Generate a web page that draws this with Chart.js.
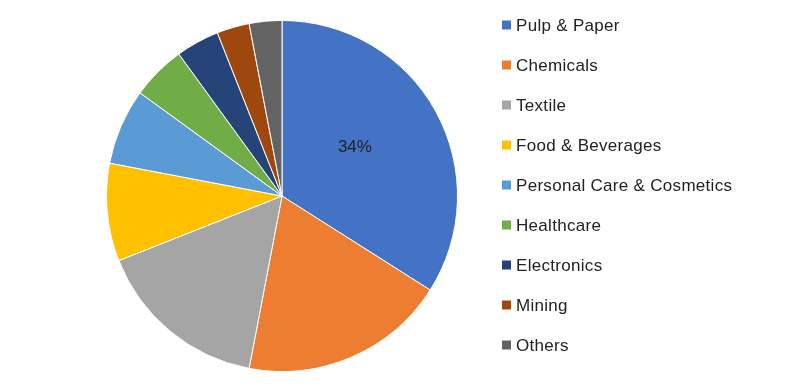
<!DOCTYPE html>
<html>
<head>
<meta charset="utf-8">
<script src="https://cdn.jsdelivr.net/npm/chart.js@4"></script>
<style>
  html, body { margin: 0; padding: 0; background: #fff; }
  #wrap { width: 800px; height: 386px; }
</style>
</head>
<body>
<div id="wrap"><canvas id="pie"></canvas></div>
<script>
const labels = ['Pulp & Paper', 'Chemicals', 'Textile', 'Food & Beverages', 'Personal Care & Cosmetics', 'Healthcare', 'Electronics', 'Mining', 'Others'];
const shares = [34, 19, 16, 9, 7, 5, 4, 3, 3];
const colors = ['#4472C4', '#ED7D31', '#A5A5A5', '#FFC000', '#5B9BD5', '#70AD47', '#264478', '#9E480E', '#636363'];
const shownLabels = [0]; // only the biggest slice has a value label

const font = '17px "Liberation Sans", Arial, sans-serif';
const textColor = '#222222';

// value label inside the slice
const sliceLabels = {
  id: 'sliceLabels',
  afterDatasetsDraw(chart) {
    const ctx = chart.ctx;
    const meta = chart.getDatasetMeta(0);
    ctx.save();
    ctx.font = font;
    ctx.fillStyle = textColor;
    ctx.textAlign = 'center';
    ctx.textBaseline = 'middle';
    shownLabels.forEach(i => {
      const p = meta.data[i].tooltipPosition();
      ctx.fillText(shares[i] + '%', p.x - 4, p.y - 6);
    });
    ctx.restore();
  }
};

// legend on the right, drawn from the chart data
const sideLegend = {
  id: 'sideLegend',
  afterDraw(chart) {
    const ctx = chart.ctx;
    const ds = chart.data.datasets[0];
    ctx.save();
    ctx.font = font;
    ctx.letterSpacing = '0.3px';
    ctx.textBaseline = 'middle';
    chart.data.labels.forEach((lab, i) => {
      const y = 25 + i * 40;
      ctx.fillStyle = ds.backgroundColor[i];
      ctx.fillRect(502, y - 4.5, 9, 9);
      ctx.fillStyle = textColor;
      ctx.fillText(lab, 516, y + 1);
    });
    ctx.restore();
  }
};

new Chart(document.getElementById('pie'), {
  type: 'pie',
  data: {
    labels,
    datasets: [{
      data: shares,
      backgroundColor: colors,
      borderColor: '#ffffff',
      borderWidth: 1
    }]
  },
  options: {
    responsive: true,
    maintainAspectRatio: false,
    animation: false,
    rotation: 0,
    layout: { padding: { left: 106, right: 342, top: 20, bottom: 14 } },
    plugins: {
      legend: { display: false },
      tooltip: { enabled: false }
    }
  },
  plugins: [sliceLabels, sideLegend]
});
</script>
</body>
</html>
